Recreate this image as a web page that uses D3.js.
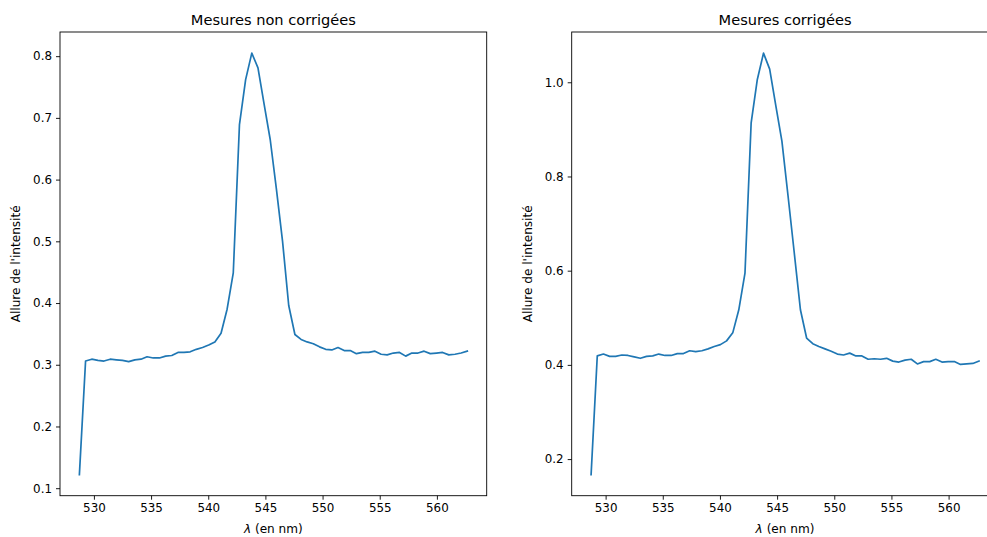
<!DOCTYPE html>
<html>
<head>
<meta charset="utf-8">
<script src="https://cdn.jsdelivr.net/npm/d3@7"></script>
<style>
  body { margin: 0; background: #fff; }
  svg { display: block; font-family: "DejaVu Sans", sans-serif; }
  .axis path, .axis line { stroke: #000; stroke-width: 0.9px; }
  .axis text { fill: #000; font-size: 11.9px; font-family: "DejaVu Sans", sans-serif; }
</style>
</head>
<body>
<script>
// wavelengths (nm), same sampling for both panels
var lambdas = [528.73, 529.27, 529.81, 530.35, 530.88, 531.42, 531.96, 532.50, 533.04, 533.58,
  534.12, 534.65, 535.19, 535.73, 536.27, 536.81, 537.35, 537.88, 538.42, 538.96,
  539.50, 540.04, 540.58, 541.12, 541.65, 542.19, 542.73, 543.27, 543.81, 544.35,
  544.89, 545.42, 545.96, 546.50, 547.04, 547.58, 548.12, 548.65, 549.19, 549.73,
  550.27, 550.81, 551.35, 551.89, 552.42, 552.96, 553.50, 554.04, 554.58, 555.12,
  555.65, 556.19, 556.73, 557.27, 557.81, 558.35, 558.88, 559.42, 559.96, 560.50,
  561.04, 561.58, 562.12, 562.66];

// raw measurements
var rawValues = [0.122, 0.306, 0.309, 0.307, 0.306, 0.309, 0.308, 0.307, 0.305, 0.308,
  0.309, 0.313, 0.311, 0.311, 0.314, 0.315, 0.320, 0.320, 0.321, 0.325,
  0.328, 0.332, 0.337, 0.351, 0.390, 0.449, 0.689, 0.762, 0.805, 0.781,
  0.722, 0.665, 0.585, 0.500, 0.396, 0.349, 0.341, 0.337, 0.334, 0.329,
  0.325, 0.324, 0.328, 0.323, 0.323, 0.318, 0.320, 0.320, 0.322, 0.317,
  0.316, 0.319, 0.320, 0.314, 0.319, 0.319, 0.322, 0.318, 0.319, 0.320,
  0.316, 0.317, 0.319, 0.322];

// corrected measurements
var corrValues = [0.167, 0.419, 0.423, 0.418, 0.418, 0.421, 0.420, 0.417, 0.414, 0.418,
  0.419, 0.423, 0.420, 0.420, 0.424, 0.424, 0.430, 0.428, 0.430, 0.434,
  0.439, 0.443, 0.451, 0.468, 0.517, 0.595, 0.914, 1.006, 1.062, 1.028,
  0.950, 0.875, 0.758, 0.638, 0.517, 0.457, 0.445, 0.439, 0.434, 0.429,
  0.423, 0.421, 0.425, 0.419, 0.419, 0.412, 0.413, 0.412, 0.414, 0.408,
  0.406, 0.410, 0.412, 0.402, 0.407, 0.407, 0.412, 0.406, 0.407, 0.407,
  0.401, 0.402, 0.403, 0.408];

var xTicks = [530, 535, 540, 545, 550, 555, 560];
var yTicksRaw = [0.1, 0.2, 0.3, 0.4, 0.5, 0.6, 0.7, 0.8];
var yTicksCorr = [0.2, 0.4, 0.6, 0.8, 1.0];

var titles = ["Mesures non corrigées", "Mesures corrigées"];
var yLabel = "Allure de l'intensité";

var W = 987, H = 537;
var plotTop = 32, plotBottom = 495.7;
var panels = [
  { left: 60, right: 486.7, values: rawValues, ticks: yTicksRaw, title: titles[0] },
  { left: 571.7, right: 998.4, values: corrValues, ticks: yTicksCorr, title: titles[1] }
];

var svg = d3.select("body").append("svg").attr("width", W).attr("height", H);

// matplotlib-like 5% padding around the data
function padded(arr) {
  var ext = d3.extent(arr);
  var p = (ext[1] - ext[0]) * 0.05;
  return [ext[0] - p, ext[1] + p];
}

panels.forEach(function (p) {
  var x = d3.scaleLinear().domain(padded(lambdas)).range([p.left, p.right]);
  var y = d3.scaleLinear().domain(padded(p.values)).range([plotBottom, plotTop]);

  var g = svg.append("g");

  // data line
  var line = d3.line()
    .x(function (d, i) { return x(lambdas[i]); })
    .y(function (d) { return y(d); });

  g.append("path")
    .datum(p.values)
    .attr("d", line)
    .attr("fill", "none")
    .attr("stroke", "#1f77b4")
    .attr("stroke-width", 1.7)
    .attr("stroke-linejoin", "round")
    .attr("stroke-linecap", "square");

  // axes
  g.append("g").attr("class", "axis")
    .attr("transform", "translate(0," + plotBottom + ")")
    .call(d3.axisBottom(x).tickValues(xTicks).tickSize(4).tickPadding(4).tickFormat(d3.format("d")))
    .call(function (s) { s.select(".domain").remove(); });

  g.append("g").attr("class", "axis")
    .attr("transform", "translate(" + p.left + ",0)")
    .call(d3.axisLeft(y).tickValues(p.ticks).tickSize(4).tickPadding(4).tickFormat(d3.format(".1f")))
    .call(function (s) { s.select(".domain").remove(); });

  // frame
  g.append("rect")
    .attr("x", p.left).attr("y", plotTop)
    .attr("width", p.right - p.left).attr("height", plotBottom - plotTop)
    .attr("fill", "none").attr("stroke", "#000").attr("stroke-width", 0.9);

  var cx = (p.left + p.right) / 2;

  // title
  g.append("text")
    .attr("x", cx).attr("y", 25)
    .attr("text-anchor", "middle")
    .attr("font-size", 14.6)
    .text(p.title);

  // x label
  var xl = g.append("text")
    .attr("x", cx).attr("y", 533)
    .attr("text-anchor", "middle")
    .attr("font-size", 12.1);
  xl.append("tspan").attr("font-style", "italic").text("λ");
  xl.append("tspan").text(" (en nm)");

  // y label
  g.append("text")
    .attr("transform", "translate(" + (p.left - 40) + "," + ((plotTop + plotBottom) / 2) + ") rotate(-90)")
    .attr("text-anchor", "middle")
    .attr("font-size", 12.1)
    .text(yLabel);
});
</script>
</body>
</html>
